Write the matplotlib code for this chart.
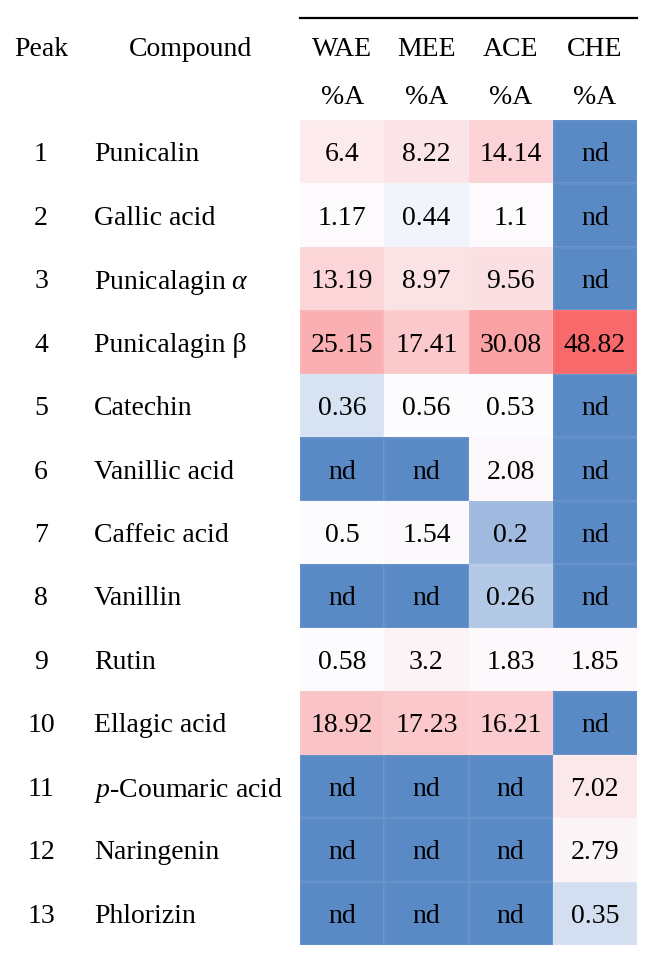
import numpy as np
import matplotlib
matplotlib.use("Agg")
import matplotlib.pyplot as plt
from matplotlib.colors import LinearSegmentedColormap, TwoSlopeNorm
from matplotlib import transforms
from matplotlib.lines import Line2D

plt.rcParams['font.family'] = ['Liberation Serif', 'DejaVu Serif']
plt.rcParams['mathtext.fontset'] = 'custom'
plt.rcParams['mathtext.rm'] = 'Liberation Serif'
plt.rcParams['mathtext.it'] = 'Liberation Serif:italic'

# --- datos ---
peaks = [str(i) for i in range(1, 14)]
compounds = ["Punicalin", "Gallic acid", r"Punicalagin $\alpha$", "Punicalagin β",
             "Catechin", "Vanillic acid", "Caffeic acid", "Vanillin", "Rutin",
             "Ellagic acid", r"$p$-Coumaric acid", "Naringenin", "Phlorizin"]
extracts = ["WAE", "MEE", "ACE", "CHE"]
# nd = no detectado (None)
wae = [6.4, 1.17, 13.19, 25.15, 0.36, None, 0.5, None, 0.58, 18.92, None, None, None]
mee = [8.22, 0.44, 8.97, 17.41, 0.56, None, 1.54, None, 3.2, 17.23, None, None, None]
ace = [14.14, 1.1, 9.56, 30.08, 0.53, 2.08, 0.2, 0.26, 1.83, 16.21, None, None, None]
che = [None, None, None, 48.82, None, None, None, None, 1.85, None, 7.02, 2.79, 0.35]

cols = [wae, mee, ace, che]
vals = np.array([[np.nan if v is None else v for v in c] for c in cols]).T
filled = np.nan_to_num(vals, nan=0.0)

# escala de 3 colores tipo Excel: min azul, mediana blanco, max rojo
cmap = LinearSegmentedColormap.from_list("bwr_xl", ["#5A8AC6", "#FCFCFF", "#F8696B"])
norm = TwoSlopeNorm(vmin=filled.min(), vcenter=np.median(filled), vmax=filled.max())

W, H = 655, 961
fig = plt.figure(figsize=(W / 100, H / 100), dpi=100)
x0, x1, y0, y1 = 300, 637, 120, 945
ax = fig.add_axes([x0 / W, 1 - y1 / H, (x1 - x0) / W, (y1 - y0) / H])
ax.pcolormesh(np.arange(5), np.arange(14), filled, cmap=cmap, norm=norm,
              edgecolors=(1, 1, 1, 0.05), linewidth=0.8)
ax.set_xlim(0, 4)
ax.set_ylim(13, 0)
ax.axis("off")

fs = 20
va = "center_baseline"
for i in range(13):
    for j in range(4):
        v = vals[i, j]
        txt = "nd" if np.isnan(v) else f"{v:g}"
        ax.text(j + 0.5, i + 0.5, txt, ha="center", va=va, fontsize=fs)

# etiquetas de filas
tr_row = transforms.blended_transform_factory(fig.transFigure, ax.transData)
for i in range(13):
    ax.text(41 / W, i + 0.5, peaks[i], transform=tr_row, ha="center", va=va,
            fontsize=fs, clip_on=False)
    ax.text(94 / W, i + 0.5, compounds[i], transform=tr_row, ha="left", va=va,
            fontsize=fs, clip_on=False)

# encabezados
tr_col = transforms.blended_transform_factory(ax.transData, fig.transFigure)
for j, name in enumerate(extracts):
    ax.text(j + 0.5, 1 - 47 / H, name, transform=tr_col, ha="center", va=va,
            fontsize=fs, clip_on=False)
    ax.text(j + 0.5, 1 - 94 / H, "%A", transform=tr_col, ha="center", va=va,
            fontsize=fs, clip_on=False)
fig.text(41 / W, 1 - 47 / H, "Peak", ha="center", va=va, fontsize=fs)
fig.text(190 / W, 1 - 47 / H, "Compound", ha="center", va=va, fontsize=fs)

fig.add_artist(Line2D([x0 / W, x1 / W], [1 - 18 / H, 1 - 18 / H], color="black",
                      linewidth=1.6, transform=fig.transFigure))

fig.savefig("out.png", dpi=100)
